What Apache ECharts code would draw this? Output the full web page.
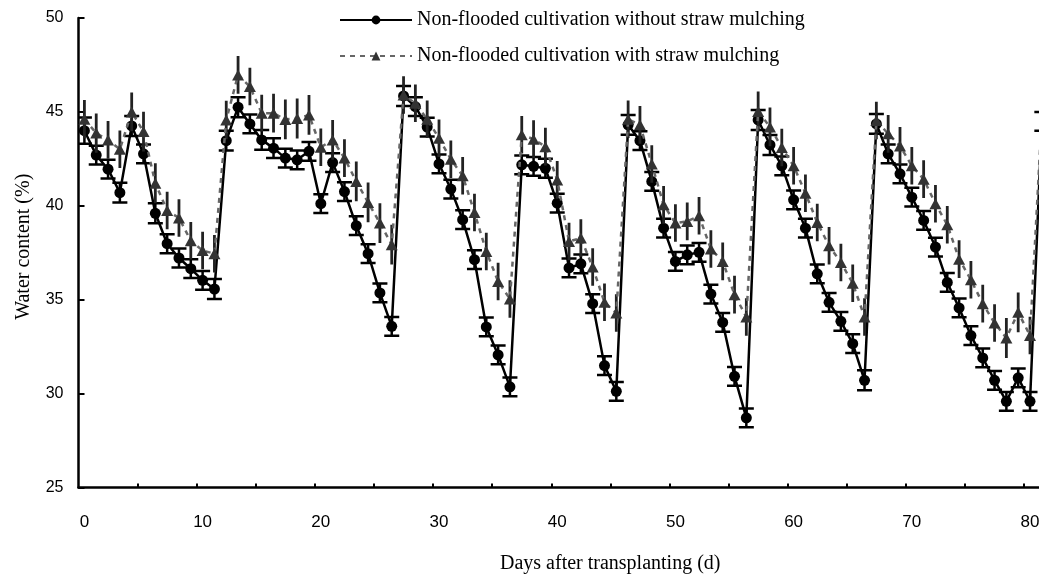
<!DOCTYPE html>
<html>
<head>
<meta charset="utf-8">
<script src="https://cdn.jsdelivr.net/npm/echarts@6/dist/echarts.min.js"></script>
<style>
  html, body { margin: 0; padding: 0; background: #fff; }
  #main { width: 1039px; height: 576px; }
</style>
</head>
<body>
<div id="main"></div>
<script>
// days after transplanting
var days = [
  0, 1, 2, 3, 4, 5, 6, 7, 8, 9, 10, 11, 12, 13, 14, 15, 16, 17, 18, 19,
  20, 21, 22, 23, 24, 25, 26, 27, 28, 29, 30, 31, 32, 33, 34, 35, 36, 37, 38, 39,
  40, 41, 42, 43, 44, 45, 46, 47, 48, 49, 50, 51, 52, 53, 54, 55, 56, 57, 58, 59,
  60, 61, 62, 63, 64, 65, 66, 67, 68, 69, 70, 71, 72, 73, 74, 75, 76, 77, 78, 79,
  80, 81
]

// without straw mulching (circles)
var noMulch = [
  44.0, 42.7, 41.95, 40.7, 44.25, 42.77, 39.6, 37.98, 37.22, 36.65,
  36.03, 35.57, 43.47, 45.25, 44.36, 43.51, 43.07, 42.54, 42.45, 42.9,
  40.11, 42.3, 40.76, 38.94, 37.45, 35.36, 33.58, 45.85, 45.28, 44.19,
  42.23, 40.89, 39.26, 37.13, 33.55, 32.06, 30.36, 42.18, 42.1, 42.0,
  40.14, 36.69, 36.91, 34.79, 31.49, 30.12, 44.31, 43.47, 41.3, 38.81,
  37.04, 37.39, 37.52, 35.3, 33.79, 30.92, 28.71, 44.57, 43.24, 42.13,
  40.32, 38.81, 36.38, 34.86, 33.85, 32.66, 30.71, 44.36, 42.77, 41.7,
  40.46, 39.22, 37.8, 35.92, 34.56, 33.09, 31.9, 30.71, 29.59, 30.84,
  29.59, 44.5
]
var noMulchErr = [
  0.7, 0.5, 0.5, 0.53, 0.53, 0.5, 0.53, 0.5, 0.5, 0.5,
  0.5, 0.53, 0.53, 0.53, 0.5, 0.53, 0.53, 0.5, 0.5, 0.5,
  0.5, 0.5, 0.5, 0.5, 0.5, 0.5, 0.5, 0.53, 0.5, 0.5,
  0.5, 0.5, 0.5, 0.5, 0.5, 0.5, 0.5, 0.5, 0.5, 0.5,
  0.5, 0.5, 0.5, 0.5, 0.5, 0.5, 0.53, 0.5, 0.5, 0.5,
  0.5, 0.5, 0.5, 0.5, 0.5, 0.5, 0.5, 0.53, 0.53, 0.5,
  0.5, 0.5, 0.5, 0.5, 0.5, 0.5, 0.53, 0.53, 0.5, 0.5,
  0.5, 0.5, 0.5, 0.5, 0.5, 0.5, 0.5, 0.5, 0.5, 0.5,
  0.5, 0.5
]

// with straw mulching (triangles)
var mulch = [
  44.61, 43.87, 43.51, 43.01, 45.0, 43.95, 41.2, 39.75, 39.35, 38.14,
  37.62, 37.45, 44.57, 46.97, 46.35, 44.93, 44.93, 44.6, 44.65, 44.84,
  43.12, 43.51, 42.54, 41.3, 40.18, 39.08, 37.93, 45.9, 45.46, 44.61,
  43.6, 42.48, 41.6, 39.64, 37.57, 35.97, 35.04, 43.78, 43.55, 43.15,
  41.38, 38.1, 38.28, 36.74, 34.86, 34.29, 44.61, 44.31, 42.23, 40.05,
  39.08, 39.17, 39.47, 37.7, 37.04, 35.27, 34.08, 45.02, 44.2, 43.1,
  42.13, 40.67, 39.11, 37.87, 36.98, 35.88, 34.08, 44.54, 43.83, 43.19,
  42.13, 41.42, 40.11, 38.99, 37.16, 36.06, 34.79, 33.76, 32.96, 34.33,
  33.09, 44.8
]
var mulchErr = [
  1.03, 1.05, 1.0, 1.0, 1.03, 1.06, 1.06, 1.0, 1.0, 1.0,
  1.0, 1.0, 1.03, 1.0, 1.0, 0.98, 1.03, 1.06, 1.06, 1.06,
  1.0, 1.06, 1.0, 1.06, 1.06, 1.06, 1.06, 1.0, 1.0, 1.0,
  1.0, 1.0, 1.0, 1.0, 1.0, 1.0, 1.0, 1.0, 1.0, 1.0,
  1.0, 1.0, 1.0, 1.0, 1.0, 1.0, 1.0, 1.0, 1.0, 1.0,
  1.0, 1.0, 1.0, 1.0, 1.0, 1.0, 1.0, 1.06, 1.03, 1.0,
  1.0, 1.0, 1.0, 1.0, 1.0, 1.0, 1.0, 1.0, 1.0, 1.0,
  1.0, 1.0, 1.0, 1.0, 1.0, 1.0, 1.0, 1.0, 1.06, 1.06,
  1.0, 1.0
]

// axis ticks: marks sit between days (every 5), labels on days (every 10)
var xTickValues = [4.5, 9.5, 14.5, 19.5, 24.5, 29.5, 34.5, 39.5, 44.5, 49.5, 54.5, 59.5, 64.5, 69.5, 74.5, 79.5]
var xLabelValues = [0, 10, 20, 30, 40, 50, 60, 70, 80]
var yTicks = [25, 30, 35, 40, 45, 50]

var sansFont = '"Liberation Sans", Arial, sans-serif'
var serifFont = '"Liberation Serif", "Times New Roman", serif'

function pairs (vals) {
  return vals.map(function (v, i) { return [days[i], v] })
}

function errRange (vals, errs) {
  return vals.map(function (v, i) { return [days[i], v - errs[i], v + errs[i]] })
}

// error bar with caps (circles)
function capBar (params, api) {
  var lo = api.coord([api.value(0), api.value(1)])
  var hi = api.coord([api.value(0), api.value(2)])
  var w = 7.5
  var st = { stroke: '#000', lineWidth: 2.5 }
  return {
    type: 'group',
    children: [
      { type: 'line', shape: { x1: lo[0], y1: lo[1], x2: hi[0], y2: hi[1] }, style: st },
      { type: 'line', shape: { x1: lo[0] - w, y1: lo[1], x2: lo[0] + w, y2: lo[1] }, style: st },
      { type: 'line', shape: { x1: hi[0] - w, y1: hi[1], x2: hi[0] + w, y2: hi[1] }, style: st }
    ]
  }
}

// plain error bar (triangles)
function plainBar (params, api) {
  var lo = api.coord([api.value(0), api.value(1)])
  var hi = api.coord([api.value(0), api.value(2)])
  return {
    type: 'line',
    shape: { x1: lo[0], y1: lo[1], x2: hi[0], y2: hi[1] },
    style: { stroke: '#222', lineWidth: 2.8 }
  }
}

var chart = echarts.init(document.getElementById('main'))

var option = {
  animation: false,
  backgroundColor: '#fff',
  grid: { left: 78.5, top: 18, right: 0, bottom: 88.5, containLabel: false, outerBoundsMode: 'none' },
  legend: {
    orient: 'vertical',
    left: 339,
    top: 10,
    padding: 0,
    itemWidth: 72,
    itemHeight: 11,
    itemGap: 16,
    textStyle: { fontFamily: serifFont, fontSize: 20, color: '#000' },
    data: ['Non-flooded cultivation without straw mulching', 'Non-flooded cultivation with straw mulching']
  },
  xAxis: {
    type: 'value',
    min: -0.5,
    max: 80.76,
    name: 'Days after transplanting (d)',
    nameLocation: 'middle',
    nameGap: 66,
    nameTextStyle: { fontFamily: serifFont, fontSize: 20, color: '#000', padding: [0, 0, 0, 103] },
    axisLine: { onZero: false, lineStyle: { color: '#000', width: 2.5 } },
    axisTick: { show: true, inside: true, length: 4, customValues: xTickValues, lineStyle: { color: '#000', width: 2 } },
    axisLabel: { customValues: xLabelValues, margin: 26, fontFamily: sansFont, fontSize: 17, color: '#000' },
    splitLine: { show: false }
  },
  yAxis: {
    type: 'value',
    min: yTicks[0],
    max: yTicks[yTicks.length - 1],
    interval: 5,
    name: 'Water content (%)',
    nameLocation: 'middle',
    nameGap: 45,
    nameTextStyle: { fontFamily: serifFont, fontSize: 20, color: '#000', padding: [0, 0, 0, 12] },
    axisLine: { show: true, onZero: false, lineStyle: { color: '#000', width: 2.5 } },
    axisTick: { show: true, inside: true, length: 6, lineStyle: { color: '#000', width: 2 } },
    axisLabel: { margin: 15, fontFamily: sansFont, fontSize: 16, color: '#000' },
    splitLine: { show: false }
  },
  series: [
    {
      name: 'errNoMulch',
      type: 'custom',
      renderItem: capBar,
      clip: true,
      data: errRange(noMulch, noMulchErr),
      z: 2
    },
    {
      name: 'Non-flooded cultivation without straw mulching',
      type: 'line',
      data: pairs(noMulch),
      symbol: 'circle',
      symbolSize: 11,
      showAllSymbol: true,
      itemStyle: { color: '#000' },
      lineStyle: { color: '#000', width: 2.5 },
      z: 3
    },
    {
      name: 'errMulch',
      type: 'custom',
      renderItem: plainBar,
      clip: true,
      data: errRange(mulch, mulchErr),
      z: 4
    },
    {
      name: 'Non-flooded cultivation with straw mulching',
      type: 'line',
      data: pairs(mulch),
      symbol: 'triangle',
      symbolSize: [12, 11],
      showAllSymbol: true,
      itemStyle: { color: '#333' },
      lineStyle: { color: '#666', width: 2.5, type: [5, 5] },
      z: 5
    }
  ]
}

chart.setOption(option)
</script>
</body>
</html>
